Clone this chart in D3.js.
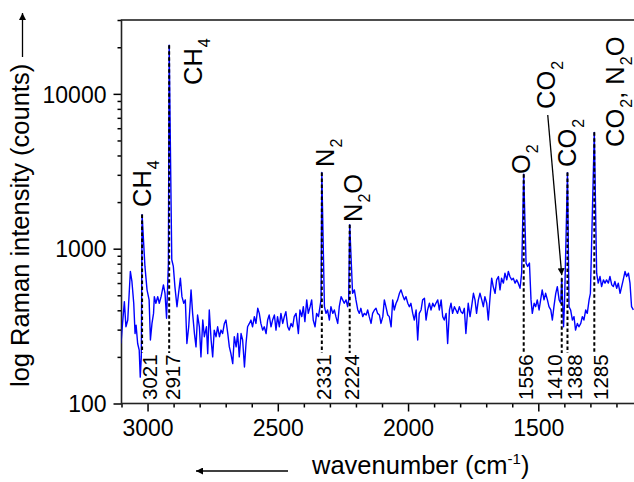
<!DOCTYPE html>
<html>
<head>
<meta charset="utf-8">
<script src="https://cdn.jsdelivr.net/npm/d3@7"></script>
<style>
  body { margin: 0; background: #fff; }
  svg text { font-family: "Liberation Sans", Arial, sans-serif; fill: #000; }
</style>
</head>
<body>
<div id="chart"></div>
<script>
// spectrum (wavenumber in cm-1, intensity in counts)
const wavenumber = [
  3102, 3096, 3089, 3083, 3076, 3066, 3060, 3053, 3048, 3044, 3038, 3032, 3028, 3024, 3021, 3010,
  3002, 2994, 2989, 2983, 2977, 2974, 2968, 2961, 2955, 2948, 2939, 2933, 2927, 2920, 2917, 2907,
  2901, 2895, 2887, 2881, 2874, 2868, 2861, 2855, 2849, 2842, 2833, 2827, 2820, 2814, 2808, 2801,
  2795, 2788, 2782, 2774, 2769, 2763, 2756, 2750, 2744, 2737, 2731, 2724, 2718, 2712, 2705, 2699,
  2692, 2686, 2680, 2673, 2667, 2660, 2654, 2648, 2641, 2635, 2628, 2622, 2616, 2609, 2603, 2597,
  2590, 2584, 2577, 2571, 2565, 2558, 2552, 2545, 2539, 2533, 2526, 2520, 2513, 2507, 2501, 2494,
  2488, 2481, 2475, 2469, 2462, 2456, 2449, 2443, 2437, 2430, 2421, 2415, 2408, 2402, 2396, 2389,
  2383, 2376, 2370, 2364, 2357, 2351, 2344, 2338, 2334, 2331, 2321, 2315, 2309, 2302, 2296, 2289,
  2283, 2277, 2270, 2264, 2257, 2251, 2245, 2238, 2232, 2228, 2224, 2213, 2206, 2200, 2193, 2187,
  2181, 2174, 2168, 2161, 2155, 2149, 2142, 2136, 2129, 2123, 2117, 2110, 2104, 2097, 2091, 2085,
  2078, 2072, 2065, 2059, 2053, 2046, 2040, 2033, 2027, 2021, 2014, 2008, 2001, 1995, 1989, 1982,
  1976, 1969, 1963, 1957, 1950, 1944, 1937, 1931, 1925, 1918, 1912, 1905, 1899, 1893, 1886, 1880,
  1873, 1867, 1861, 1854, 1848, 1841, 1835, 1829, 1822, 1816, 1810, 1803, 1797, 1790, 1784, 1778,
  1769, 1762, 1756, 1749, 1743, 1737, 1730, 1724, 1717, 1711, 1705, 1698, 1692, 1685, 1679, 1673,
  1666, 1660, 1653, 1647, 1641, 1634, 1628, 1621, 1615, 1609, 1602, 1596, 1589, 1583, 1577, 1570,
  1564, 1556, 1547, 1541, 1534, 1528, 1523, 1516, 1510, 1504, 1497, 1491, 1485, 1478, 1472, 1465,
  1459, 1452, 1446, 1440, 1433, 1427, 1420, 1414, 1410, 1403, 1399, 1388, 1382, 1376, 1369, 1363,
  1357, 1350, 1344, 1337, 1331, 1325, 1318, 1312, 1305, 1300, 1285, 1276, 1270, 1263, 1257, 1250,
  1244, 1238, 1231, 1225, 1218, 1212, 1206, 1199, 1193, 1186, 1180, 1174, 1167, 1161, 1154, 1148,
  1142, 1135
];
const counts = [
  244, 329, 455, 313, 346, 713, 614, 444, 283, 321, 244, 221, 148, 200, 1660, 768,
  542, 467, 257, 329, 382, 490, 444, 490, 444, 490, 584, 515, 355, 807, 20600, 848,
  768, 569, 422, 515, 645, 490, 444, 467, 244, 313, 542, 382, 283, 232, 373, 313,
  200, 346, 270, 313, 210, 402, 257, 200, 298, 270, 313, 270, 298, 283, 329, 346,
  283, 232, 210, 181, 270, 232, 283, 200, 283, 257, 172, 244, 313, 329, 346, 313,
  364, 329, 412, 382, 329, 298, 313, 283, 346, 373, 313, 346, 373, 298, 364, 313,
  382, 329, 364, 392, 313, 298, 329, 313, 364, 382, 283, 402, 364, 422, 338, 467,
  382, 422, 467, 346, 313, 382, 364, 422, 467, 3110, 422, 382, 402, 346, 422, 382,
  402, 364, 329, 422, 490, 467, 444, 467, 422, 467, 1430, 515, 542, 467, 402, 382,
  412, 364, 382, 373, 402, 364, 329, 382, 402, 412, 382, 373, 329, 364, 467, 422,
  373, 364, 313, 467, 402, 444, 467, 515, 542, 503, 467, 490, 444, 422, 444, 382,
  346, 402, 257, 382, 402, 467, 478, 346, 402, 444, 402, 444, 422, 444, 467, 402,
  467, 364, 346, 382, 244, 402, 444, 382, 422, 402, 382, 422, 392, 382, 412, 283,
  444, 364, 422, 515, 467, 382, 467, 515, 467, 422, 490, 444, 346, 490, 645, 569,
  515, 629, 661, 542, 645, 599, 695, 629, 713, 661, 629, 645, 599, 629, 599, 555,
  695, 3030, 807, 768, 807, 467, 382, 444, 422, 467, 402, 467, 542, 467, 515, 467,
  422, 402, 346, 422, 515, 569, 467, 444, 645, 313, 467, 3100, 422, 402, 346, 364,
  298, 329, 313, 329, 364, 346, 402, 382, 467, 515, 5640, 695, 599, 661, 569, 629,
  599, 629, 599, 661, 584, 569, 614, 555, 599, 515, 569, 629, 713, 661, 695, 599,
  422, 402
];

// marked bands
const peakPos = [3021, 2917, 2331, 2224, 1556, 1410, 1388, 1285];
const peakTop = [1660, 20600, 3110, 1430, 3030, 645, 3100, 5640];
const peakNames = ["CH_4", "CH_4", "N_2", "N_2O", "O_2", "CO_2", "CO_2", "CO_2, N_2O"];

const xTicks = [3000, 2500, 2000, 1500];
const xMinor = [3100, 2900, 2800, 2700, 2600, 2400, 2300, 2200, 2100, 1900, 1800, 1700, 1600, 1400, 1300, 1200];
const yTicks = [100, 1000, 10000];
const yMinor = [200, 300, 400, 500, 600, 700, 800, 900, 2000, 3000, 4000, 5000, 6000, 7000, 8000, 9000, 20000, 30000];

const W = 634, H = 482;
const pLeft = 121.5, pTop = 20, pBottom = 403.5, pRight = 642.5;

const svg = d3.select("#chart")
              .append("svg")
              .attr("width", W)
              .attr("height", H);

const x = d3.scaleLinear().domain([3100, 1100]).range([pLeft, pRight]);
const y = d3.scaleLog().domain([100, 30000]).range([pBottom, pTop]);

const defs = svg.append("defs");
defs.append("clipPath").attr("id", "plot")
    .append("rect").attr("x", pLeft).attr("y", pTop)
    .attr("width", pRight - pLeft).attr("height", pBottom - pTop);
defs.append("marker")
    .attr("id", "head")
    .attr("viewBox", "0 0 10 10")
    .attr("refX", 10).attr("refY", 5)
    .attr("markerWidth", 11).attr("markerHeight", 7)
    .attr("markerUnits", "userSpaceOnUse")
    .attr("orient", "auto")
    .append("path").attr("d", "M0,0L10,5L0,10Z").attr("fill", "#000");

// axes
const gx = svg.append("g")
   .attr("transform", `translate(0,${pBottom})`)
   .call(d3.axisBottom(x).tickValues(xTicks).tickSize(8).tickSizeOuter(0)
           .tickFormat(d3.format("d")));
gx.selectAll("text").attr("y", 32).attr("dy", 0).style("font-size", "23px");
svg.append("g")
   .attr("transform", `translate(0,${pBottom})`)
   .call(d3.axisBottom(x).tickValues(xMinor).tickSize(4).tickFormat(""));

const gy = svg.append("g")
   .attr("transform", `translate(${pLeft},0)`)
   .call(d3.axisLeft(y).tickValues(yTicks).tickSize(8).tickPadding(7)
           .tickFormat(d3.format("d")).tickSizeOuter(0));
gy.selectAll("text").attr("dy", "0.36em").style("font-size", "23px");
svg.append("g")
   .attr("transform", `translate(${pLeft},0)`)
   .call(d3.axisLeft(y).tickValues(yMinor).tickSize(4).tickFormat(""));

svg.selectAll(".domain").remove();
svg.selectAll(".tick line").attr("stroke", "#000").attr("stroke-width", 1.5);

// frame
svg.append("rect")
   .attr("x", pLeft).attr("y", pTop)
   .attr("width", pRight - pLeft).attr("height", pBottom - pTop)
   .attr("fill", "none").attr("stroke", "#222").attr("stroke-width", 1.6);

// spectrum
const line = d3.line()
               .x(i => x(wavenumber[i]))
               .y(i => y(counts[i]));
svg.append("path")
   .attr("clip-path", "url(#plot)")
   .attr("d", line(d3.range(wavenumber.length)))
   .attr("fill", "none")
   .attr("stroke", "#0000ff")
   .attr("stroke-width", 1.4)
   .attr("stroke-linejoin", "round");

// dashed markers and band positions
const numShift = [15, 11, 9, 9, 9, 0, 15, 14];
svg.selectAll(".mark")
   .data(peakPos)
   .enter()
   .append("line")
   .attr("class", "mark")
   .attr("x1", d => x(d)).attr("x2", d => x(d))
   .attr("y1", (d, i) => y(peakTop[i]))
   .attr("y2", 353)
   .attr("stroke", "#000")
   .attr("stroke-width", 2)
   .attr("stroke-dasharray", "3.5,2.5");

svg.selectAll(".num")
   .data(peakPos)
   .enter()
   .append("text")
   .attr("class", "num")
   .attr("transform", (d, i) => `translate(${x(d) + numShift[i]},400) rotate(-90)`)
   .style("font-size", "20.5px")
   .text(d => d);

// species labels, "_" marks a subscript character
const nameAt = [[9, 207], [33, 85], [12.5, 167], [12.6, 222], [6, 174], [-6.7, 109], [8.6, 167], [29.4, 147]];
peakPos.forEach((p, i) => {
  const t = svg.append("text")
               .attr("transform", `translate(${x(p) + nameAt[i][0]},${nameAt[i][1]}) rotate(-90)`)
               .style("font-size", "25.5px");
  const bits = peakNames[i].split("_");
  t.append("tspan").text(bits[0]);
  bits.slice(1).forEach(b => {
    t.append("tspan").attr("dy", 8).attr("dx", 1).style("font-size", "16px").text(b[0]);
    if (b.length > 1) t.append("tspan").attr("dy", -8).text(b.slice(1));
  });
});

// arrow from the upper CO2 label to the weak 1410 band
svg.append("line")
   .attr("x1", x(1410) - 14).attr("y1", 115)
   .attr("x2", x(1410)).attr("y2", y(645) - 3)
   .attr("stroke", "#000").attr("stroke-width", 1.3)
   .attr("marker-end", "url(#head)");

// axis titles
const xt = svg.append("text")
              .attr("x", 312).attr("y", 474)
              .style("font-size", "25.5px")
              .text("wavenumber (cm");
xt.append("tspan").attr("dy", -10).style("font-size", "15px").text("-1");
xt.append("tspan").attr("dy", 10).text(")");

svg.append("line")
   .attr("x1", 288).attr("y1", 471).attr("x2", 196).attr("y2", 471)
   .attr("stroke", "#000").attr("stroke-width", 1.3)
   .attr("marker-end", "url(#head)");

svg.append("text")
   .attr("transform", "translate(29,387) rotate(-90)")
   .style("font-size", "25.5px")
   .text("log Raman intensity (counts)");

svg.append("line")
   .attr("x1", 22.5).attr("y1", 57).attr("x2", 22.5).attr("y2", 13)
   .attr("stroke", "#000").attr("stroke-width", 1.3)
   .attr("marker-end", "url(#head)");
</script>
</body>
</html>
